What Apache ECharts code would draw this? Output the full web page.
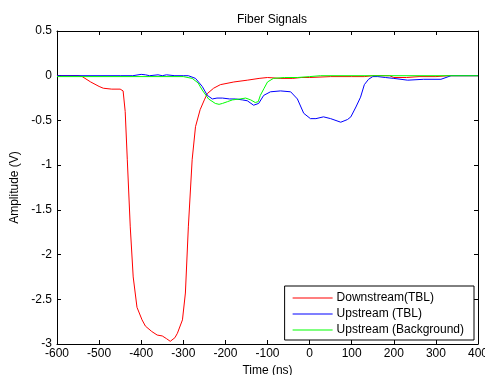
<!DOCTYPE html>
<html>
<head>
<meta charset="utf-8">
<script src="https://cdn.jsdelivr.net/npm/echarts@6/dist/echarts.min.js"></script>
<style>html,body{margin:0;padding:0;background:#fff}#c{width:485px;height:375px}</style>
</head>
<body>
<div id="c"></div>
<script>
var titleText = 'Fiber Signals';
var xName = 'Time (ns)';
var yName = 'Amplitude (V)';
var seriesNames = ['Downstream(TBL)', 'Upstream (TBL)', 'Upstream (Background)'];

var downTime = [-600,-550,-540,-520,-500,-490,-470,-450,-443,-438,-433,-426,-419,-410,-398,-390,-386,-375,-362,-350,-340,-331,-320,-314,-302,-295,-288,-279,-271,-260,-250,-243,-228,-212,-180,-148,-120,-100,-70,-40,-20,0,50,100,130,150,190,200,230,260,300,330,400];
var downVal  = [0,0,-0.01,-0.07,-0.12,-0.14,-0.15,-0.15,-0.17,-0.4,-0.94,-1.69,-2.25,-2.59,-2.73,-2.8,-2.82,-2.86,-2.9,-2.91,-2.94,-2.97,-2.93,-2.88,-2.73,-2.43,-1.69,-0.94,-0.57,-0.38,-0.27,-0.2,-0.14,-0.1,-0.07,-0.05,-0.03,-0.02,-0.03,-0.03,-0.02,-0.02,-0.01,-0.01,-0.01,0,0,-0.02,-0.02,-0.01,-0.01,0,0];

var upTime = [-600,-450,-420,-400,-390,-380,-360,-350,-340,-320,-300,-288,-271,-255,-243,-231,-220,-207,-190,-176,-160,-148,-133,-121,-109,-93,-69,-45,-29,-14,2,15,33,50,74,90,98,110,121,130,140,150,162,180,200,233,271,312,336,400];
var upVal  = [0,0,0,0.015,0.01,0,0.01,0,0.01,0,0,0,-0.03,-0.12,-0.22,-0.26,-0.25,-0.25,-0.26,-0.26,-0.27,-0.28,-0.33,-0.31,-0.22,-0.18,-0.17,-0.18,-0.26,-0.42,-0.48,-0.48,-0.46,-0.48,-0.52,-0.49,-0.46,-0.35,-0.24,-0.1,-0.04,-0.01,-0.01,-0.02,-0.03,-0.05,-0.04,-0.04,0,0];

var bgTime = [-600,-300,-279,-265,-255,-240,-224,-215,-207,-195,-183,-165,-152,-140,-129,-122,-117,-108,-100,-86,-60,-29,0,26,400];
var bgVal  = [-0.01,-0.01,-0.03,-0.08,-0.16,-0.26,-0.31,-0.32,-0.31,-0.29,-0.27,-0.26,-0.25,-0.27,-0.3,-0.29,-0.22,-0.14,-0.07,-0.03,-0.02,-0.02,-0.01,0,0];

var xTicks = {min: -600, max: 400, interval: 100};
var yTicks = {min: -3, max: 0.5, interval: 0.5};

function pairs(t, v) { return t.map(function (x, i) { return [x, v[i]]; }); }

var font = 'Liberation Sans, Arial, sans-serif';
var axisCol = '#000';
var chart = echarts.init(document.getElementById('c'), null, {renderer: 'canvas'});
function axisCommon(show, margin) {
  return {
    axisLine: {show: true, onZero: false, lineStyle: {color: axisCol, width: 1}},
    axisTick: {show: true, inside: true, length: 4, lineStyle: {color: axisCol}},
    axisLabel: {show: show, color: '#000', fontFamily: font, fontSize: 12, margin: margin || 5},
    splitLine: {show: false}
  };
}
var xa = Object.assign(axisCommon(true, 4), {type: 'value', min: xTicks.min, max: xTicks.max, interval: xTicks.interval, position: 'bottom',
  name: xName, nameLocation: 'middle', nameGap: 20, nameTextStyle: {color: '#000', fontFamily: font, fontSize: 12}});
var xa2 = Object.assign(axisCommon(false), {type: 'value', min: xTicks.min, max: xTicks.max, interval: xTicks.interval, position: 'top'});
var ya = Object.assign(axisCommon(true, 5), {type: 'value', min: yTicks.min, max: yTicks.max, interval: yTicks.interval, position: 'left',
  name: yName, nameLocation: 'middle', nameGap: 29, nameTextStyle: {color: '#000', fontFamily: font, fontSize: 12}});
var ya2 = Object.assign(axisCommon(false), {type: 'value', min: yTicks.min, max: yTicks.max, interval: yTicks.interval, position: 'right'});

function line(name, data, color) {
  return {type: 'line', name: name, data: data, xAxisIndex: 0, yAxisIndex: 0, showSymbol: false, symbol: 'none',
    lineStyle: {color: color, width: 1}, itemStyle: {color: color}, animation: false};
}

chart.setOption({
  animation: false,
  backgroundColor: '#fff',
  title: {text: titleText, left: 267, top: 9, textAlign: 'center',
    textStyle: {fontFamily: font, fontSize: 12, fontWeight: 'normal', color: '#000'}},
  grid: {left: 57, right: 7, top: 31, bottom: 31, containLabel: false, outerBoundsMode: 'none'},
  xAxis: [xa, xa2],
  yAxis: [ya, ya2],
  legend: {
    orient: 'vertical', right: 11, bottom: 35,
    backgroundColor: '#fff', borderColor: '#000', borderWidth: 1,
    padding: [6, 10, 4, 8], itemGap: 4,
    itemWidth: 40, itemHeight: 1, icon: 'rect',
    textStyle: {fontFamily: font, fontSize: 12, color: '#000', padding: [0, 0, 0, -1]},
    data: seriesNames
  },
  series: [
    line(seriesNames[0], pairs(downTime, downVal), '#ff0000'),
    line(seriesNames[1], pairs(upTime, upVal), '#0000ff'),
    line(seriesNames[2], pairs(bgTime, bgVal), '#00ff00')
  ]
});
</script>
</body>
</html>
